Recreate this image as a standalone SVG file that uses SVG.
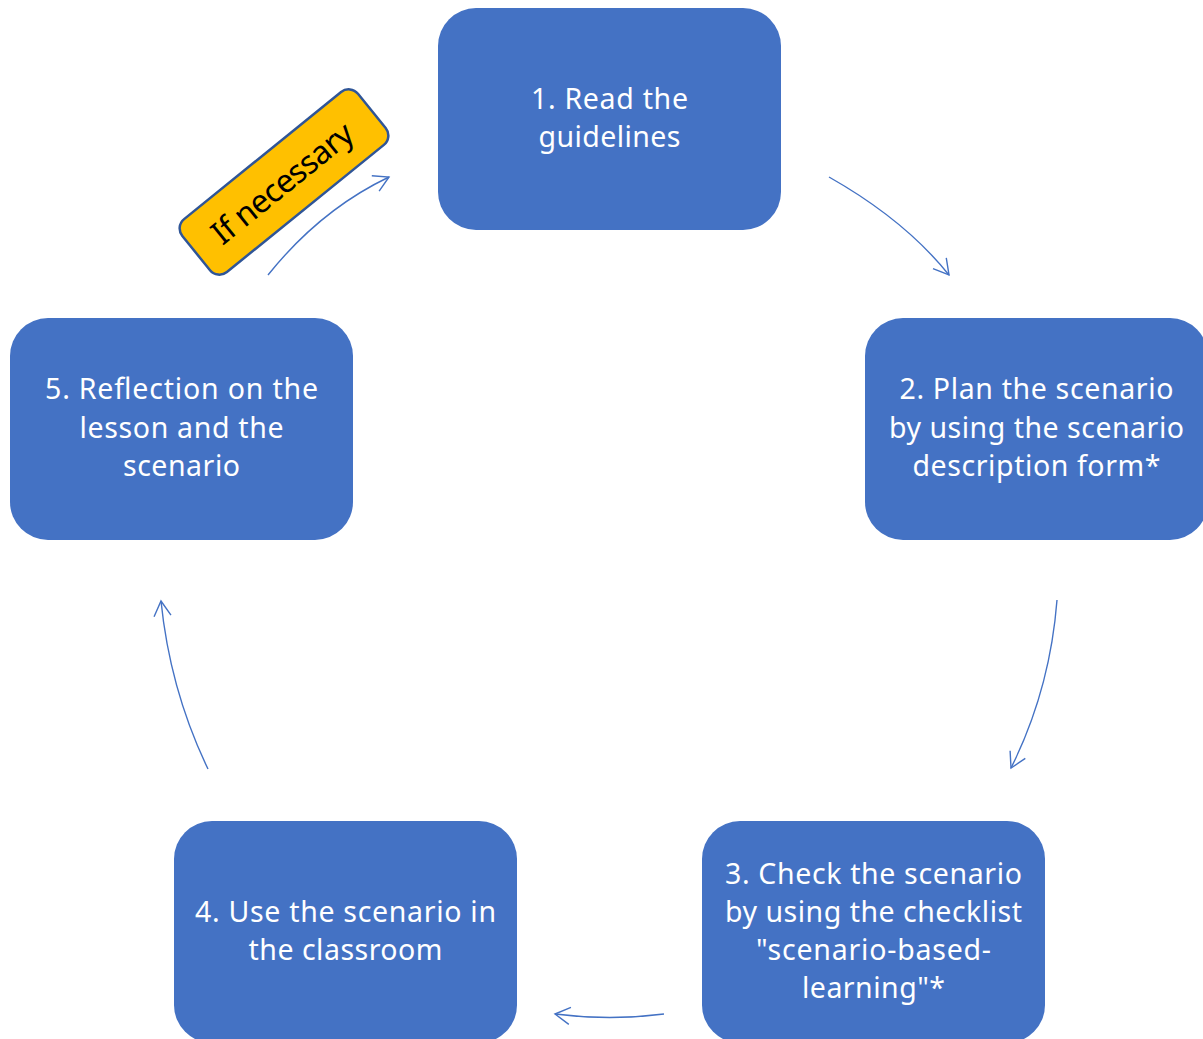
<svg xmlns="http://www.w3.org/2000/svg" width="1203" height="1039" viewBox="0 0 1203 1039">
<style>
.box{fill:#4472C4;}
.t{font-family:"Noto Sans","Open Sans",sans-serif;font-size:28.5px;fill:#FFFFFF;text-anchor:middle;}
.c{fill:none;stroke:#4472C4;stroke-width:1.4;marker-end:url(#ah);}
.lbl{font-family:"Noto Sans","Open Sans",sans-serif;font-size:32px;fill:#000000;text-anchor:middle;}
</style>
<defs>
<marker id="ah" markerUnits="userSpaceOnUse" markerWidth="40" markerHeight="40" viewBox="-20 -20 40 40" refX="0" refY="0" orient="auto">
<path d="M-15,-8.5 L0,0 L-15,8.5" fill="none" stroke="#4472C4" stroke-width="1.4"/>
</marker>
</defs>
<rect width="1203" height="1039" fill="#FFFFFF"/>
<g id="connectors">
<path class="c" d="M829,177 Q905,220 949,275"/>
<path class="c" d="M1057,600 Q1050,690 1011,768"/>
<path class="c" d="M664,1014 Q610,1021 555,1014"/>
<path class="c" d="M208,769 Q170,690 161,601"/>
<path class="c" d="M268,275 Q320,210 389,177"/>
</g>
<g id="node1">
<rect class="box" x="438" y="8" width="343" height="222" rx="38"/>
<text class="t"><tspan x="609.5" y="109" textLength="157">1. Read the</tspan><tspan x="609.5" y="147" textLength="142">guidelines</tspan></text>
</g>
<g id="node2">
<rect class="box" x="865" y="318" width="343" height="222" rx="38"/>
<text class="t"><tspan x="1036.5" y="399" textLength="274">2. Plan the scenario</tspan><tspan x="1036.5" y="438" textLength="295">by using the scenario</tspan><tspan x="1036.5" y="476" textLength="248">description form*</tspan></text>
</g>
<g id="node3">
<rect class="box" x="702" y="821" width="343" height="222" rx="38"/>
<text class="t"><tspan x="873.5" y="884" textLength="297">3. Check the scenario</tspan><tspan x="873.5" y="922" textLength="297">by using the checklist</tspan><tspan x="873.5" y="960" textLength="235">"scenario-based-</tspan><tspan x="873.5" y="998" textLength="143">learning"*</tspan></text>
</g>
<g id="node4">
<rect class="box" x="174" y="821" width="343" height="222" rx="38"/>
<text class="t"><tspan x="345.5" y="922" textLength="301">4. Use the scenario in</tspan><tspan x="345.5" y="960" textLength="194">the classroom</tspan></text>
</g>
<g id="node5">
<rect class="box" x="10" y="318" width="343" height="222" rx="38"/>
<text class="t"><tspan x="181.5" y="399" textLength="273">5. Reflection on the</tspan><tspan x="181.5" y="438" textLength="204">lesson and the</tspan><tspan x="181.5" y="476" textLength="117">scenario</tspan></text>
</g>
<g id="label-if-necessary" transform="translate(284,182) rotate(-39)">
<rect x="-113" y="-34" width="226" height="68" rx="12" fill="#FFC000" stroke="#2F5597" stroke-width="2.5"/>
<text class="lbl" x="-2" y="11" textLength="172">If necessary</text>
</g>
</svg>
